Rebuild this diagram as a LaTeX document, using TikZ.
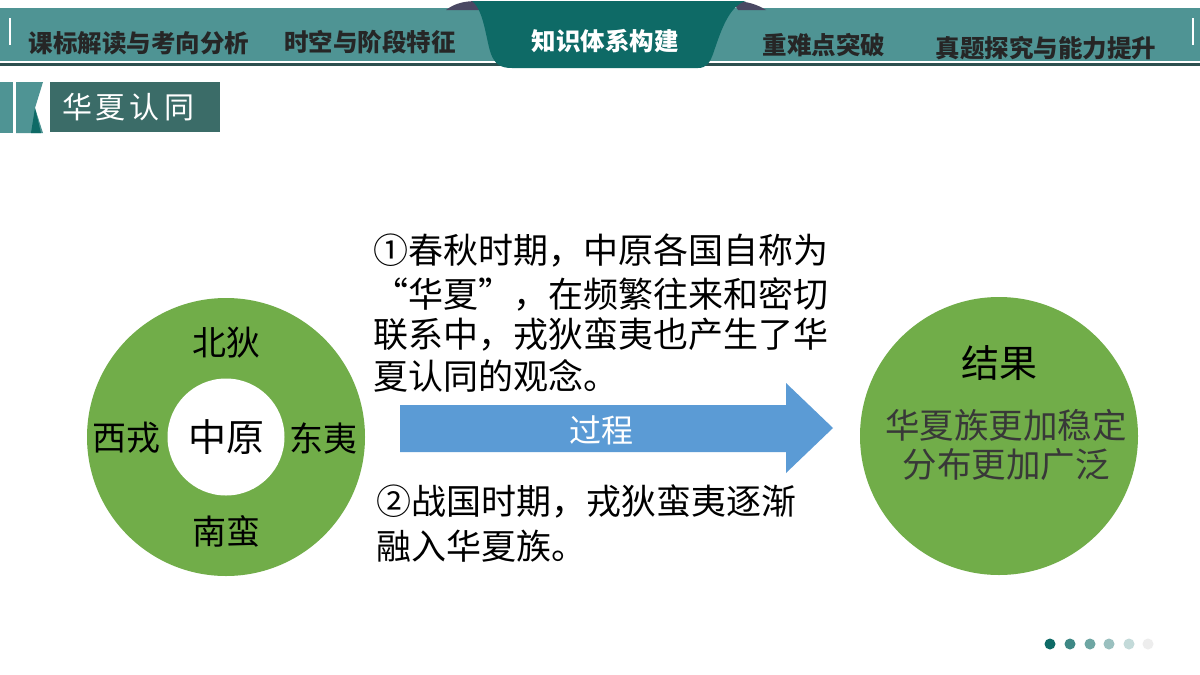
\documentclass[tikz,border=0pt]{standalone}
\usepackage{fontspec}
\setmainfont{Noto Sans CJK SC}
\newfontfamily\cjk{Noto Sans CJK SC}
\usetikzlibrary{calc}
\definecolor{band}{HTML}{4F9494}
\definecolor{tab}{HTML}{0E6A66}
\definecolor{hump}{HTML}{4A4863}
\definecolor{darkline}{HTML}{2D4F4F}
\definecolor{titlebox}{HTML}{3B6C68}
\definecolor{ringgreen}{HTML}{71AD49}
\definecolor{arrowblue}{HTML}{5B9BD5}
\definecolor{hdtext}{HTML}{262626}
\tikzset{
  hdr/.style={font=\cjk\bfseries\fontsize{24.5}{24.5}\selectfont, text=hdtext, inner sep=0pt},
  ringlbl/.style={font=\cjk\fontsize{34}{34}\selectfont, text=black, inner sep=0pt},
  para/.style={font=\cjk\fontsize{35}{35}\selectfont, text=black, inner sep=0pt, anchor=west},
  res/.style={font=\cjk\fontsize{34.5}{34.5}\selectfont, text=black!78, inner sep=0pt},
  dotn/.style={circle, inner sep=0pt, minimum size=11pt}
}
\begin{document}
\begin{tikzpicture}[x=1pt,y=-1pt]
\useasboundingbox (0,0) rectangle (1200,675);
\fill[white] (0,0) rectangle (1200,675);
% header band
\fill[band] (0,8) rectangle (1200,61);
\draw[darkline, line width=2.5pt] (0,64.5) -- (1200,64.5);
\draw[white, line width=1.5pt] (10,18) -- (10,45);
\draw[white, line width=1.5pt] (1193,18) -- (1193,45);
% humps
\fill[hump] (446,10) .. controls (455,3) and (465,1) .. (478,1) -- (486,10) -- cycle;
\fill[hump] (732,1) .. controls (748,1) and (758,5) .. (766,10) -- (738,10) -- cycle;
% central tab
\fill[tab] (472,1) .. controls (484,10) and (486,40) .. (491,54)
  .. controls (495,64) and (500,68) .. (512,68) -- (698,68)
  .. controls (707,68) and (710,62) .. (713,54)
  .. controls (720,34) and (728,6) .. (746,1) -- cycle;
\node[hdr] (h1) at (139,43) {课标解读与考向分析};
\node[hdr] (h2) at (370,42) {时空与阶段特征};
\node[hdr, text=white] (h3) at (605,41) {知识体系构建};
\node[hdr] (h4) at (824,45) {重难点突破};
\node[hdr] (h5) at (1046,48) {真题探究与能力提升};
% section title
\fill[band] (0,82) rectangle (13,133);
\fill[band] (16,82) -- (43,82) -- (35,108) -- (43,133) -- (16,133) -- cycle;
\fill[tab] (35,108) -- (41,133) -- (31,133) -- cycle;
\fill[titlebox] (50,82) rectangle (220,132);
\node[font=\cjk\fontsize{30}{30}\selectfont, text=white, inner sep=0pt] (title) at (128,107) {华\kern4pt 夏\kern4pt 认\kern4pt 同};
% ring
\node[circle, fill=ringgreen, minimum size=278pt, inner sep=0pt] (ring) at (226,437) {};
\node[circle, fill=white, minimum size=117pt, inner sep=0pt, font=\cjk\fontsize{38}{38}\selectfont] (core) at (226,437) {中原};
\node[ringlbl] (north) at (226,343) {北狄};
\node[ringlbl] (west) at (126,438) {西戎};
\node[ringlbl] (east) at (323,438) {东夷};
\node[ringlbl] (south) at (226,531) {南蛮};
% paragraph 1
\node[para] (p1) at (373,251) {①春秋时期，中原各国自称为};
\node[para] (p2) at (373,294) {“华夏”，在频繁往来和密切};
\node[para] (p3) at (373,334) {联系中，戎狄蛮夷也产生了华};
\node[para] (p4) at (373,376) {夏认同的观念。};
% arrow
\fill[arrowblue] (400,405) -- (786,405) -- (786,383) -- (833,428) -- (786,473) -- (786,452) -- (400,452) -- cycle;
\node[font=\cjk\fontsize{32}{32}\selectfont, text=white, inner sep=0pt] (proc) at (601,430) {过程};
% paragraph 2
\node[para] (q1) at (376,501) {②战国时期，戎狄蛮夷逐渐};
\node[para] (q2) at (376,546) {融入华夏族。};
% result circle
\node[circle, fill=ringgreen, minimum size=278pt, inner sep=0pt] (result) at (999,436) {};
\node[font=\cjk\fontsize{38}{38}\selectfont, text=black, inner sep=0pt] (rtitle) at (999,363) {结果};
\node[res] (r1) at (1006,425) {华夏族更加稳定};
\node[res] (r2) at (1006,465) {分布更加广泛};
% dots
\node[dotn, fill=tab] (d1) at (1050,644) {};
\node[dotn, fill=tab!80!white] (d2) at (1070,644) {};
\node[dotn, fill=tab!60!white] (d3) at (1090,644) {};
\node[dotn, fill=tab!42!white] (d4) at (1109,644) {};
\node[dotn, fill=tab!25!white] (d5) at (1129,644) {};
\node[dotn, fill=black!7] (d6) at (1148,644) {};
\end{tikzpicture}
\end{document}
